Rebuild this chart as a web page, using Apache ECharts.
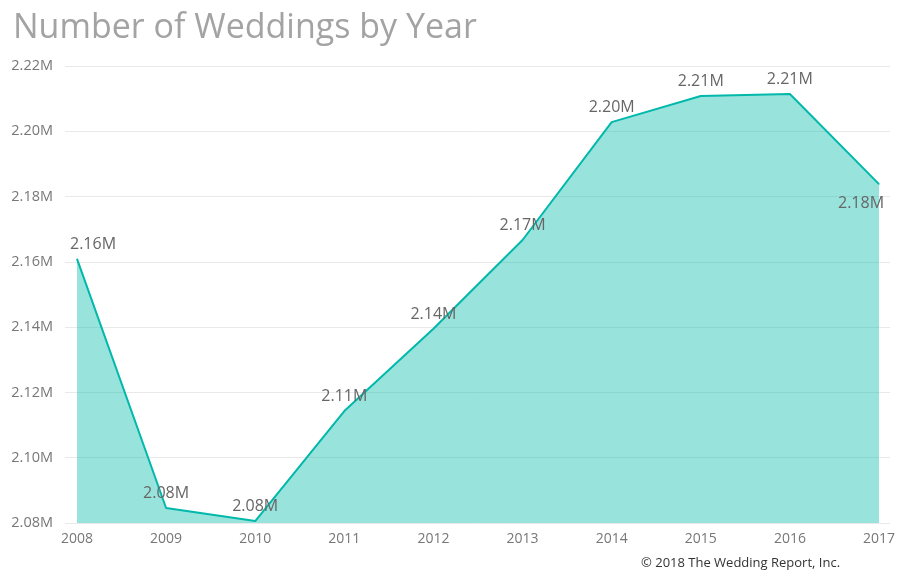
<!DOCTYPE html>
<html>
<head>
<meta charset="utf-8">
<script src="https://cdn.jsdelivr.net/npm/echarts@6/dist/echarts.min.js"></script>
<style>html,body{margin:0;padding:0;background:#fff}#c{width:900px;height:582px}</style>
</head>
<body>
<div id="c"></div>
<script>
var years = ['2008','2009','2010','2011','2012','2013','2014','2015','2016','2017'];
var weddings = [2160900, 2084600, 2080600, 2114300, 2139500, 2166700, 2202800, 2210800, 2211400, 2183800];
var yTicks = {min: 2080000, max: 2220000, interval: 20000};

var fmt = function (v) { return (v / 1e6).toFixed(2) + 'M'; };
var labelFont = {fontFamily: 'Open Sans', fontSize: 16, color: '#666'};

var seriesData = weddings.map(function (v, i) {
  var item = {value: v};
  if (i === 0) item.label = {position: 'top', offset: [16, 0]};
  if (i === weddings.length - 1) item.label = {position: 'bottom', offset: [-18, 5]};
  return item;
});

var chart = echarts.init(document.getElementById('c'), null, {renderer: 'canvas'});
chart.setOption({
  animation: false,
  title: {
    text: 'Number of Weddings by Year',
    left: 8, top: 6,
    textStyle: {fontFamily: 'Open Sans', fontWeight: 'normal', fontSize: 34, color: '#a3a3a3'}
  },
  grid: [
    {left: 65, right: 10, top: 66, bottom: 59},
    {left: 77, right: 21, top: 66, bottom: 59}
  ],
  xAxis: [
    {gridIndex: 0, type: 'category', data: years, show: false},
    {gridIndex: 1, type: 'category', data: years, boundaryGap: false,
     axisLine: {show: false}, axisTick: {show: false},
     axisLabel: {fontFamily: 'Open Sans', fontSize: 14, color: '#777', margin: 9}}
  ],
  yAxis: [
    {gridIndex: 0, type: 'value', min: yTicks.min, max: yTicks.max, interval: yTicks.interval,
     axisLine: {show: false}, axisTick: {show: false},
     splitLine: {lineStyle: {color: '#e9e9e9', width: 1}},
     axisLabel: {formatter: fmt, fontFamily: 'Open Sans', fontSize: 14.5, color: '#777', margin: 12}},
    {gridIndex: 1, type: 'value', min: yTicks.min, max: yTicks.max, interval: yTicks.interval,
     show: false, splitLine: {show: false}}
  ],
  series: [{
    type: 'line',
    xAxisIndex: 1, yAxisIndex: 1,
    data: seriesData,
    symbol: 'circle',
    symbolSize: 1,
    showSymbol: true,
    showAllSymbol: true,
    lineStyle: {color: '#01B8AA', width: 2},
    itemStyle: {color: '#01B8AA'},
    areaStyle: {color: 'rgba(1,184,170,0.4)', opacity: 1, origin: 'start'},
    label: Object.assign({show: true, position: 'top', distance: 6,
      formatter: function (p) { return fmt(p.value); }}, labelFont)
  }],
  graphic: [{
    type: 'text', left: 641, top: 557,
    style: {text: '\u00A9 2018 The Wedding Report, Inc.', font: '13px "Open Sans"', fill: '#333'}
  }]
});
</script>
</body>
</html>
